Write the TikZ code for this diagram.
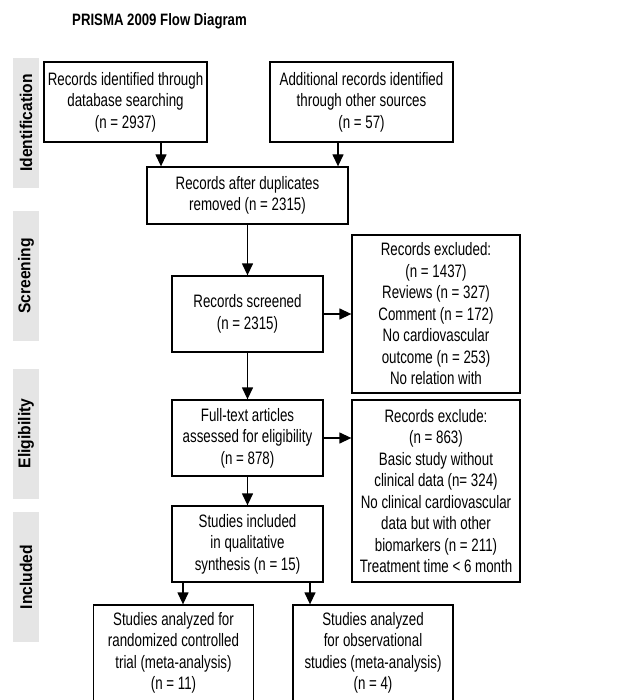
\documentclass[tikz,border=0pt]{standalone}
\usepackage{fontspec}
\setmainfont[FakeStretch=0.74]{Liberation Sans}
\newfontfamily\sidefont[FakeStretch=0.92]{Liberation Sans}
\newfontfamily\titlefont[FakeStretch=0.8]{Liberation Sans}
\usepackage{tikz}
\usetikzlibrary{positioning,arrows.meta}
\definecolor{sidegray}{rgb}{0.9,0.9,0.9}
\tikzstyle{bx}=[%
      rectangle, draw=black, line width=1.3pt, fill=white, align=center,
      inner sep=0pt, font=\fontsize{18}{21.5}\selectfont
]
\tikzstyle{sd}=[%
      rectangle, fill=sidegray, rotate=90, minimum width=130pt, minimum height=26pt,
      inner sep=0pt, font=\sidefont\fontsize{17}{20}\selectfont\bfseries
]

\begin{document}
\begin{tikzpicture}[x=1pt, y=-1pt,
    ->,
    >={Triangle[length=12pt,width=11pt]},
    line width=1.3pt,
]
    \clip (0,0) rectangle (628,700);

    \node[font=\titlefont\fontsize{16.5}{19}\selectfont\bfseries] (t) at (159.5,21) {PRISMA 2009 Flow Diagram};

    % phases
    \node[sd] (s1) at (26,123)   {Identification};
    \node[sd] (s2) at (26,276)   {Screening};
    \node[sd] (s3) at (26,433.5) {Eligibility};
    \node[sd] (s4) at (26,577)   {Included};

    % boxes
    \node[bx, minimum width=163pt, minimum height=80pt]  (1)  at (125.5,102) {Records identified through\\database searching\\(n = 2937)};
    \node[bx, minimum width=183pt, minimum height=80pt]  (2)  at (361.5,102) {Additional records identified\\through other sources\\(n = 57)};
    \node[bx, minimum width=201pt, minimum height=57pt]  (3)  at (247.5,195.5) {Records after duplicates\\removed (n = 2315)};
    \node[bx, minimum width=151pt, minimum height=76pt]  (4)  at (247.5,314) {Records screened\\(n = 2315)};
    \node[bx, minimum width=168pt, minimum height=158pt] (5)  at (436,314) {Records excluded:\\(n = 1437)\\Reviews (n = 327)\\Comment (n = 172)\\No cardiovascular\\outcome (n = 253)\\No relation with};
    \node[bx, minimum width=151pt, minimum height=76pt]  (6)  at (247.5,438) {Full-text articles\\assessed for eligibility\\(n = 878)};
    \node[bx, minimum width=168pt, minimum height=182pt] (7)  at (436,491) {Records exclude:\\(n = 863)\\Basic study without\\clinical data (n= 324)\\No clinical cardiovascular\\data but with other\\biomarkers (n = 211)\\Treatment time < 6 month};
    \node[bx, minimum width=151pt, minimum height=76pt]  (8)  at (247.5,544) {Studies included\\in qualitative\\synthesis (n = 15)};
    \node[bx, minimum width=160pt, minimum height=96pt]  (9)  at (173.5,653) {Studies analyzed for\\randomized controlled\\trial (meta-analysis)\\(n = 11)};
    \node[bx, minimum width=160pt, minimum height=96pt]  (10) at (373,653) {Studies analyzed\\for observational\\studies (meta-analysis)\\(n = 4)};

    \coordinate (a1) at (161,0);
    \coordinate (a2) at (338,0);
    \coordinate (a3) at (183,0);
    \coordinate (a4) at (310,0);

    \draw (1.south -| a1) -- (3.north -| a1);
    \draw (2.south -| a2) -- (3.north -| a2);
    \draw (3) -- (4);
    \draw (4) -- (5);
    \draw (4) -- (6);
    \draw (6) -- (6.east -| 7.west);
    \draw (6) -- (8);
    \draw (8.south -| a3) -- (9.north -| a3);
    \draw (8.south -| a4) -- (10.north -| a4);
\end{tikzpicture}
\end{document}
